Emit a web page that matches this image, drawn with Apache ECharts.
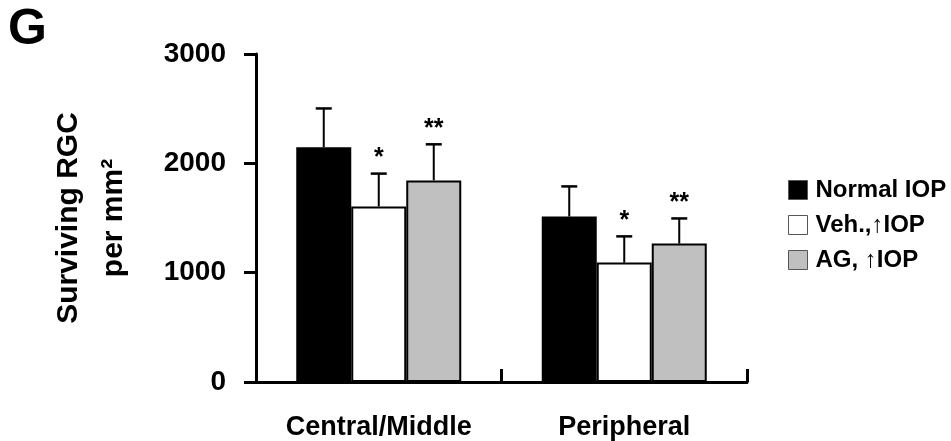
<!DOCTYPE html>
<html><head><meta charset="utf-8">
<script src="https://cdn.jsdelivr.net/npm/echarts@6/dist/echarts.min.js"></script>
<style>html,body{margin:0;padding:0;background:#fff}#c{width:951px;height:441px}</style>
</head><body><div id="c"></div>
<script>
var categories = ['Central/Middle', 'Peripheral'];
var seriesNames = ['Normal IOP', 'Veh.,\u2191IOP', 'AG, \u2191IOP'];
var normalIOP = [2147, 1514];
var vehIOP = [1606, 1092];
var agIOP = [1844, 1266];
var normalErr = [355, 275];
var vehErr = [300, 240];
var agErr = [330, 230];
var normalSig = ['', ''];
var vehSig = ['*', '*'];
var agSig = ['**', '**'];
var yTicks = [0, 1000, 2000, 3000];

var values = [normalIOP, vehIOP, agIOP];
var errs = [normalErr, vehErr, agErr];
var sigs = [normalSig, vehSig, agSig];
var fills = ['#000000', '#ffffff', '#c0c0c0'];
var BW = 55;
var font = 'Liberation Sans, Arial, sans-serif';

var chart = echarts.init(document.getElementById('c'));
var series = [];
values.forEach(function (vals, si) {
  series.push({
    name: seriesNames[si], type: 'bar', data: vals, barWidth: BW, barGap: '0%',
    itemStyle: { color: fills[si], borderColor: '#000', borderWidth: 2 },
    z: 2
  });
});
values.forEach(function (vals, si) {
  var data = vals.map(function (v, i) { return [i, v, errs[si][i]]; });
  series.push({
    type: 'custom', data: data, z: 3, silent: true,
    renderItem: function (params, api) {
      var ci = api.value(0), v = api.value(1), e = api.value(2);
      var base = api.coord([ci, v]);
      var top = api.coord([ci, v + e]);
      var x = base[0] + (si - 1) * BW;
      var children = [
        { type: 'line', shape: { x1: x, y1: base[1], x2: x, y2: top[1] }, style: { stroke: '#000', lineWidth: 2 } },
        { type: 'line', shape: { x1: x - 8, y1: top[1], x2: x + 8, y2: top[1] }, style: { stroke: '#000', lineWidth: 2.5 } }
      ];
      var s = sigs[si][params.dataIndex];
      if (s) {
        children.push({ type: 'text', style: { text: s, x: x, y: top[1] - 3, align: 'center', verticalAlign: 'bottom', font: 'bold 25px ' + font, fill: '#000' } });
      }
      return { type: 'group', children: children };
    }
  });
});

chart.setOption({
  animation: false,
  grid: { left: 256, right: 204, top: 54, bottom: 59 },
  title: { text: 'G', left: 3, top: 0, textStyle: { fontSize: 50, fontWeight: 'bold', fontFamily: font, color: '#000' } },
  legend: {
    orient: 'vertical', left: 783, top: 173, itemWidth: 19, itemHeight: 19, itemGap: 11,
    data: seriesNames, icon: 'rect',
    itemStyle: { borderWidth: 1, borderColor: '#555' },
    textStyle: { fontSize: 24, lineHeight: 19, fontWeight: 'bold', fontFamily: font, color: '#000', padding: [0, 0, 0, 3] }
  },
  xAxis: {
    type: 'category', data: categories,
    axisLine: { lineStyle: { color: '#000', width: 3 } },
    axisTick: { show: true, inside: true, length: 13, lineStyle: { color: '#000', width: 3 } },
    axisLabel: { interval: 0, fontSize: 27, fontWeight: 'bold', fontFamily: font, color: '#000', margin: 32 }
  },
  yAxis: {
    type: 'value', min: yTicks[0], max: yTicks[yTicks.length - 1], interval: yTicks[1] - yTicks[0],
    name: 'Surviving RGC\nper mm\u00b2', nameLocation: 'middle', nameGap: 120, nameRotate: 90,
    nameTextStyle: { fontSize: 30, fontWeight: 'bold', fontFamily: font, color: '#000', lineHeight: 45 },
    splitLine: { show: false },
    axisLine: { show: true, lineStyle: { color: '#000', width: 3 } },
    axisTick: { show: true, length: 12, lineStyle: { color: '#000', width: 3 } },
    axisLabel: { fontSize: 28, fontWeight: 'bold', fontFamily: font, color: '#000', margin: 30, formatter: function (v) { return String(v); } }
  },
  series: series
});
</script></body></html>
